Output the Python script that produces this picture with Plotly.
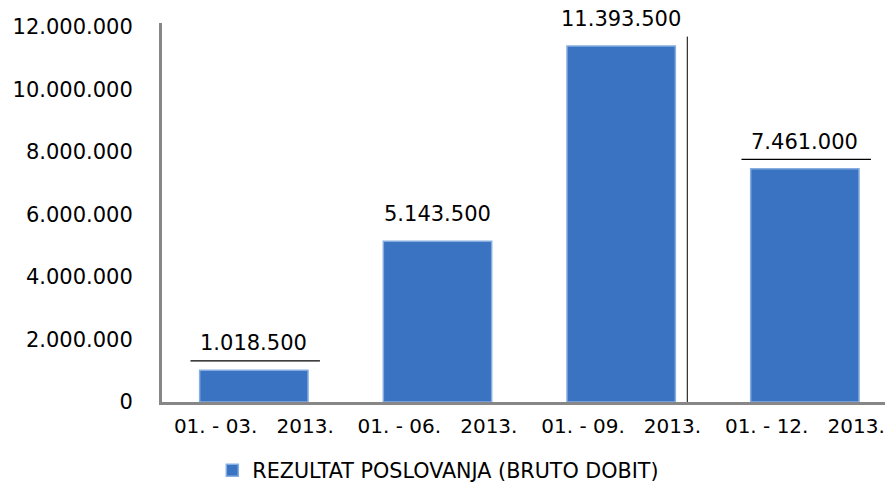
import plotly.graph_objects as go

categories = ["01.\u00a0-\u00a003.\u00a0\u00a0\u00a02013.", "01.\u00a0-\u00a006.\u00a0\u00a0\u00a02013.",
              "01.\u00a0-\u00a009.\u00a0\u00a0\u00a02013.", "01.\u00a0-\u00a012.\u00a0\u00a0\u00a02013."]
values = [1018500, 5143500, 11393500, 7461000]
series_name = "REZULTAT POSLOVANJA (BRUTO DOBIT)"
y_ticks = [0, 2000000, 4000000, 6000000, 8000000, 10000000, 12000000]
underlined = [0, 3]

FONT = "DejaVu Sans"

fig = go.Figure()
fig.add_trace(go.Bar(
    x=list(range(len(categories))), y=values, name=series_name,
    marker=dict(color="#3a73c2", line=dict(color="#86ade0", width=1.5)),
    showlegend=True,
))

for i, v in enumerate(values):
    fig.add_annotation(x=i, y=v, text=f"{v:,}".replace(",", "."), showarrow=False,
                       yanchor="middle", yshift=27,
                       font=dict(family=FONT, size=21, color="black"))

for i in underlined:
    fig.add_shape(type="line", xref="x", yref="y", x0=i - 0.345, x1=i + 0.36,
                  y0=values[i] + 300000, y1=values[i] + 300000,
                  line=dict(color="black", width=1.2))
# vertical leader line next to third label
fig.add_shape(type="line", xref="x", yref="y", x0=2.36, x1=2.36,
              y0=-200000, y1=values[2] + 300000, line=dict(color="black", width=1))

fig.update_layout(
    width=885, height=489,
    margin=dict(l=154, r=0, t=15, b=95, autoexpand=False),
    paper_bgcolor="white", plot_bgcolor="white",
    separators=",.",
    bargap=0.41,
    font=dict(family=FONT, color="black"),
    legend=dict(orientation="h", x=0.378, xanchor="center", y=-0.18, yanchor="middle",
                font=dict(family=FONT, size=20.7, color="black")),
    xaxis=dict(range=[-0.5, 3.48], tickmode="array", tickvals=list(range(len(categories))),
               ticktext=categories, showline=True, linecolor="#878787", linewidth=3,
               showgrid=False, zeroline=False, tickfont=dict(family=FONT, size=20),
               ticks="", ticklabelstandoff=4, automargin=False),
    yaxis=dict(range=[0, 12128000], tickvals=y_ticks, tickformat=",d",
               showline=True, linecolor="#878787", linewidth=3, showgrid=False,
               zeroline=False, tickfont=dict(family=FONT, size=21), ticks="",
               ticklabelstandoff=22, automargin=False),
)

fig.write_html("out.html")
